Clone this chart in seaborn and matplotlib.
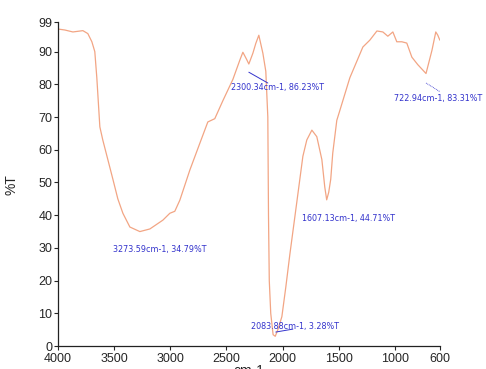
import numpy as np
import pandas as pd
import matplotlib
matplotlib.use("Agg")
import matplotlib.pyplot as plt
import seaborn as sns

# IR spectrum
wavenumber = [4000, 3938, 3866, 3777, 3733, 3697, 3671, 3653, 3635, 3626, 3600, 3555,
              3510, 3466, 3421, 3359, 3270, 3181, 3065, 3003, 2959, 2914, 2825, 2736,
              2665, 2603, 2531, 2442, 2380, 2353, 2318, 2300, 2264, 2238, 2211, 2175,
              2149, 2131, 2125, 2118, 2105, 2084, 2065, 2042, 2006, 1971, 1935, 1873,
              1819, 1784, 1739, 1695, 1650, 1624, 1607, 1589, 1571, 1553, 1517, 1490,
              1401, 1285, 1223, 1160, 1107, 1063, 1018, 983, 938, 894, 849, 796,
              723, 670, 636, 618, 600]
transmittance = [96.9, 96.6, 96.0, 96.4, 95.5, 93.0, 90.0, 82.0, 72.0, 67.0, 63.0, 57.0,
                 51.0, 45.0, 40.6, 36.4, 35.0, 35.8, 38.5, 40.6, 41.2, 44.6, 53.8, 62.0,
                 68.5, 69.5, 75.0, 81.5, 87.4, 89.8, 87.5, 86.2, 89.5, 92.5, 95.0, 89.5,
                 84.0, 70.0, 40.0, 20.0, 10.0, 3.5, 3.0, 5.0, 9.0, 18.0, 28.0, 44.0,
                 58.0, 63.0, 66.0, 64.0, 57.0, 48.6, 44.7, 47.0, 51.0, 59.0, 69.0, 72.0,
                 82.0, 91.4, 93.5, 96.3, 96.0, 94.7, 96.0, 93.0, 93.0, 92.6, 88.3, 86.0,
                 83.3, 90.4, 96.0, 95.0, 93.5]

peak_labels = ["2300.34cm-1, 86.23%T", "722.94cm-1, 83.31%T", "3273.59cm-1, 34.79%T",
               "1607.13cm-1, 44.71%T", "2083.88cm-1, 3.28%T"]
label_x = [2042, 1010, 3092, 1410, 1891]
label_y = [79.1, 75.8, 29.4, 39.1, 6.1]
label_ha = ["center", "left", "center", "center", "center"]

yticks = [0, 10, 20, 30, 40, 50, 60, 70, 80, 90, 99]
xticks = [4000, 3500, 3000, 2500, 2000, 1500, 1000, 600]

sns.set_style("ticks")
plt.rcParams["font.family"] = ["Liberation Sans", "DejaVu Sans"]

df = pd.DataFrame({"wn": wavenumber, "T": transmittance})

fig = plt.figure(figsize=(4.86, 3.69), dpi=100)
ax = fig.add_axes([0.119, 0.062, 0.786, 0.878])
sns.lineplot(data=df, x="wn", y="T", sort=False, color="#f2a584", linewidth=0.9, ax=ax)

ax.set_xlim(4000, 600)
ax.set_ylim(0, 99)
ax.set_yticks(yticks)
ax.set_xticks(xticks)
ax.tick_params(labelsize=9, length=3, width=0.8, pad=1)
ax.tick_params(axis="x", pad=2)
sns.despine(ax=ax)
for s in ["left", "bottom"]:
    ax.spines[s].set_linewidth(0.9)
    ax.spines[s].set_color("#222222")
ax.set_xlabel("cm-1", fontsize=10, labelpad=-1)
ax.set_ylabel("%T", fontsize=10, labelpad=14)

blue = "#3333cc"
for txt, lx, ly, ha in zip(peak_labels, label_x, label_y, label_ha):
    ax.text(lx, ly, txt, fontsize=5.8, color=blue, ha=ha, va="center",
            family="DejaVu Sans")

# leader lines
ax.plot([2300, 2131], [83.7, 80.4], color=blue, lw=0.7)
ax.plot([723, 564], [80.4, 77.0], color=blue, lw=0.6, ls=(0, (1, 1)))
ax.plot([2060, 1908], [4.3, 5.2], color=blue, lw=0.7)

fig.savefig("out.png", dpi=100)
